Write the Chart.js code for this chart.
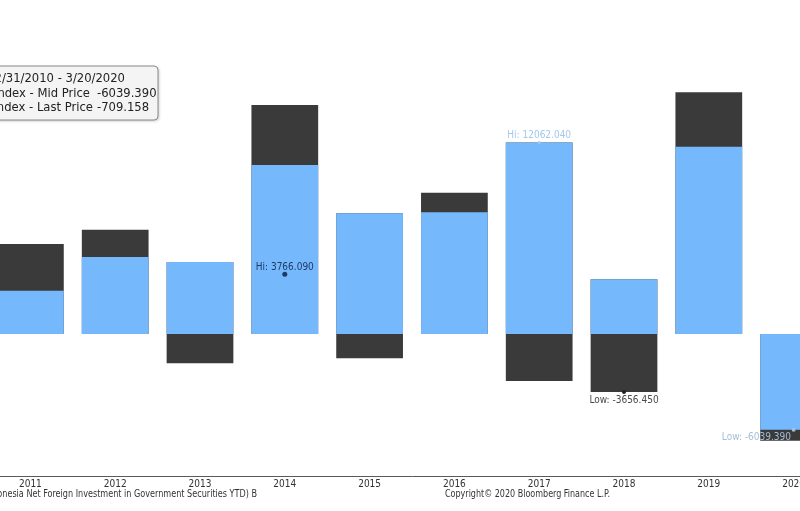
<!DOCTYPE html>
<html>
<head>
<meta charset="utf-8">
<script src="https://cdn.jsdelivr.net/npm/chart.js@4.4.1/dist/chart.umd.min.js"></script>
<style>
  html, body { margin: 0; padding: 0; background: #fff; overflow: hidden; }
  body { width: 800px; height: 511px; position: relative; }
  #chart { position: absolute; left: -60px; top: 0; }
</style>
</head>
<body>
<canvas id="chart" width="920" height="511"></canvas>
<script>
// yearly YTD net foreign flows (IDR bn) - close of year and range of the year
const years = ['2011', '2012', '2013', '2014', '2015', '2016', '2017', '2018', '2019', '2020'];
const closeValues = [2730, 4850, 4540, 10650, 7600, 7670, 12062.04, 3450, 11800, -6039.39];
const rangeLow = [0, 0, -1850, 0, -1530, 0, -2960, -3656.45, 0, -6720];
const rangeHigh = [5670, 6570, 4540, 14430, 7600, 8900, 12062.04, 3450, 15230, 0];

// Hi / Low call-outs
const markerYears = ['2014', '2017', '2018', '2020'];
const markerValues = [3766.09, 12062.04, -3656.45, -6039.39];
const markerTexts = ['Hi: 3766.090', 'Hi: 12062.040', 'Low: -3656.450', 'Low: -6039.390'];

const periodText = '12/31/2010 - 3/20/2020';
const legendRows = [
    { name: 'IDNFGS Index - Mid Price', value: '-6039.390' },
    { name: 'IDNFGS Index - Last Price', value: '-709.158' }
];
const sourceText = 'IDNFGS Index (Indonesia Net Foreign Investment in Government Securities YTD) B';
const copyrightText = 'Copyright\u00a9 2020 Bloomberg Finance L.P.';

const BLUE = '#75b9fc';
const DARK = '#3a3a3a';
const SHIFT = 60; // canvas sits 60px left of the page edge (chart is cropped)
const SMALL_FONT = '10px "DejaVu Sans Condensed", "DejaVu Sans", sans-serif';

const overlayPlugin = {
    id: 'overlay',
    afterDatasetsDraw(chart) {
        const ctx = chart.ctx;
        const meta = chart.getDatasetMeta(2);
        const colors = ['#1f3a68', '#a3c8ea', '#4a4a4a', '#a5bdd6'];
        ctx.save();
        ctx.font = SMALL_FONT;
        ctx.textBaseline = 'middle';
        ctx.textAlign = 'left';
        meta.data.forEach((pt, i) => {
            const w = ctx.measureText(markerTexts[i]).width;
            let x = pt.x - w / 2;
            const maxRight = 791 + SHIFT;
            if (x + w > maxRight) x = maxRight - w;
            const y = markerValues[i] >= 0 ? pt.y - 7 : pt.y + 8;
            ctx.fillStyle = colors[i];
            ctx.fillText(markerTexts[i], x, y);
        });
        ctx.restore();
    },
    afterDraw(chart) {
        const ctx = chart.ctx;
        ctx.save();
        // legend box
        const bx = -20 + SHIFT, by = 66, bw = 178, bh = 54;
        ctx.shadowColor = 'rgba(0,0,0,0.25)';
        ctx.shadowBlur = 3;
        ctx.shadowOffsetX = 1;
        ctx.shadowOffsetY = 1;
        ctx.beginPath();
        ctx.roundRect(bx, by, bw, bh, 4);
        ctx.fillStyle = '#f4f4f4';
        ctx.fill();
        ctx.shadowColor = 'transparent';
        ctx.strokeStyle = '#8a8a8a';
        ctx.lineWidth = 1;
        ctx.stroke();

        ctx.fillStyle = '#222';
        ctx.font = '11.6px "DejaVu Sans", sans-serif';
        ctx.textBaseline = 'middle';
        ctx.textAlign = 'right';
        ctx.fillText(periodText, 125 + SHIFT, 79);
        ctx.fillText(legendRows[0].name, 90 + SHIFT, 94);
        ctx.fillText(legendRows[1].name, 93 + SHIFT, 108);
        ctx.textAlign = 'left';
        ctx.fillText(legendRows[0].value, 97 + SHIFT, 94);
        ctx.fillText(legendRows[1].value, 97 + SHIFT, 108);

        // footer
        ctx.fillStyle = '#333';
        ctx.font = SMALL_FONT;
        ctx.textAlign = 'right';
        ctx.save();
        ctx.translate(257 + SHIFT, 494);
        ctx.scale(0.9, 1);
        ctx.fillText(sourceText, 0, 0);
        ctx.restore();
        ctx.textAlign = 'left';
        ctx.fillText(copyrightText, 445 + SHIFT, 494, 165);
        ctx.restore();
    }
};

new Chart(document.getElementById('chart'), {
    type: 'bar',
    data: {
        labels: years,
        datasets: [
            {
                label: 'Mid Price',
                data: closeValues,
                backgroundColor: BLUE,
                grouped: false,
                order: 1
            },
            {
                label: 'Range',
                data: years.map((y, i) => [rangeLow[i], rangeHigh[i]]),
                backgroundColor: DARK,
                grouped: false,
                order: 2
            },
            {
                type: 'line',
                label: 'Hi/Low',
                data: markerYears.map((y, i) => ({ x: y, y: markerValues[i] })),
                showLine: false,
                pointRadius: [2.5, 1.5, 2, 2],
                pointBackgroundColor: ['#1f3a68', '#a3c8ea', '#222', '#a5bdd6'],
                pointBorderWidth: 0,
                order: 0
            }
        ]
    },
    options: {
        responsive: false,
        animation: false,
        categoryPercentage: 0.787,
        barPercentage: 1,
        layout: { padding: { left: 48, right: 24, top: 10, bottom: 0 } },
        plugins: { legend: { display: false }, tooltip: { enabled: false } },
        scales: {
            x: {
                grid: { display: false, drawTicks: false },
                border: { display: true, color: '#5a5a5a', width: 1 },
                ticks: {
                    color: '#333',
                    font: { family: '"DejaVu Sans Condensed", "DejaVu Sans", sans-serif', size: 10 },
                    padding: 2,
                    maxRotation: 0,
                    autoSkip: false
                },
                afterFit(scale) { scale.height = 35; }
            },
            y: {
                display: false,
                min: -8946,
                max: 20412
            }
        }
    },
    plugins: [overlayPlugin]
});
</script>
</body>
</html>
